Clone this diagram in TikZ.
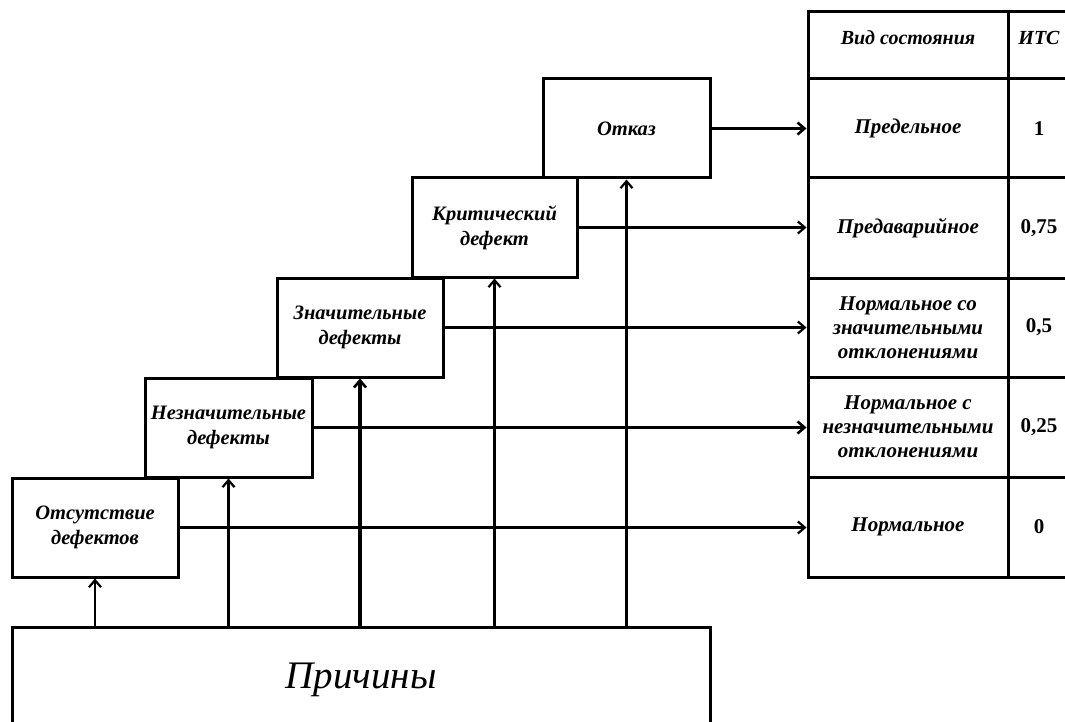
\documentclass[tikz,border=0pt]{standalone}
\usepackage{fontspec}
\setmainfont{Liberation Serif}
\usetikzlibrary{arrows.meta}
\begin{document}
\begin{tikzpicture}[x=1pt,y=-1pt,
  box/.style={draw, line width=3pt, inner sep=0pt, align=center,
    font=\fontsize{20.5}{25}\selectfont\bfseries\itshape},
  cell/.style={draw, line width=3pt, inner sep=0pt, align=center,
    font=\fontsize{21}{24}\selectfont\bfseries\itshape, minimum width=200pt},
  numcell/.style={draw, line width=3pt, inner sep=0pt, align=center,
    font=\fontsize{21}{24}\selectfont\bfseries, minimum width=62pt},
  headfont/.style={font=\fontsize{20}{22}\selectfont\bfseries\itshape, text depth=16pt},
  arr/.style={line width=2.2pt, -{Straight Barb[length=7pt,width=12pt,line width=2.2pt]}},
  boldarr/.style={line width=3.4pt, -{Straight Barb[length=7pt,width=12pt,line width=2.6pt]}}
]
\useasboundingbox[fill=white] (0,0) rectangle (1065,722);

% step boxes
\node[box, minimum width=166pt, minimum height=99pt] (b1) at (95,527.5) {Отсутствие\\дефектов};
\node[box, minimum width=167pt, minimum height=99pt] (b2) at (228.5,427.5) {Незначительные\\дефекты};
\node[box, minimum width=166pt, minimum height=99pt] (b3) at (360,327.5) {Значительные\\дефекты};
\node[box, minimum width=165pt, minimum height=99pt] (b4) at (494.5,227.5) {Критический\\дефект};
\node[box, minimum width=167pt, minimum height=99pt] (b5) at (626.5,128.5) {Отказ};

% causes
\node[draw, line width=3pt, inner sep=0pt, minimum width=698pt, minimum height=106pt,
  font=\fontsize{39}{42}\selectfont\itshape] (pr) at (361,680) {Причины};

% table
\node[cell, minimum height=67pt, headfont] (h1) at (908,45.5) {Вид состояния};
\node[numcell, minimum height=67pt, headfont] (h2) at (1039,45.5) {ИТС};
\node[cell, minimum height=99pt] (c1) at (908,128.5) {Предельное};
\node[numcell, minimum height=99pt] (n1) at (1039,128.5) {1};
\node[cell, minimum height=100pt] (c2) at (908,228) {Предаварийное};
\node[numcell, minimum height=100pt] (n2) at (1039,228) {0,75};
\node[cell, minimum height=99pt] (c3) at (908,327.5) {Нормальное со\\значительными\\отклонениями};
\node[numcell, minimum height=99pt] (n3) at (1039,327.5) {0,5};
\node[cell, minimum height=100pt] (c4) at (908,427) {Нормальное с\\незначительными\\отклонениями};
\node[numcell, minimum height=100pt] (n4) at (1039,427) {0,25};
\node[cell, minimum height=100pt] (c5) at (908,527) {Нормальное};
\node[numcell, minimum height=100pt] (n5) at (1039,527) {0};

% vertical arrows from causes
\draw[arr] (b1.south |- pr.north) -- (b1.south);
\draw[arr] (b2.south |- pr.north) -- (b2.south);
\draw[boldarr] (b3.south |- pr.north) -- (b3.south);
\draw[arr] (b4.south |- pr.north) -- (b4.south);
\draw[arr] (b5.south |- pr.north) -- (b5.south);

% horizontal arrows to table
\draw[arr] (b1.east) -- (b1.east -| c5.west);
\draw[boldarr] (b2.east) -- (b2.east -| c4.west);
\draw[arr] (b3.east) -- (b3.east -| c3.west);
\draw[arr] (b4.east) -- (b4.east -| c2.west);
\draw[boldarr] (b5.east) -- (b5.east -| c1.west);
\end{tikzpicture}
\end{document}
